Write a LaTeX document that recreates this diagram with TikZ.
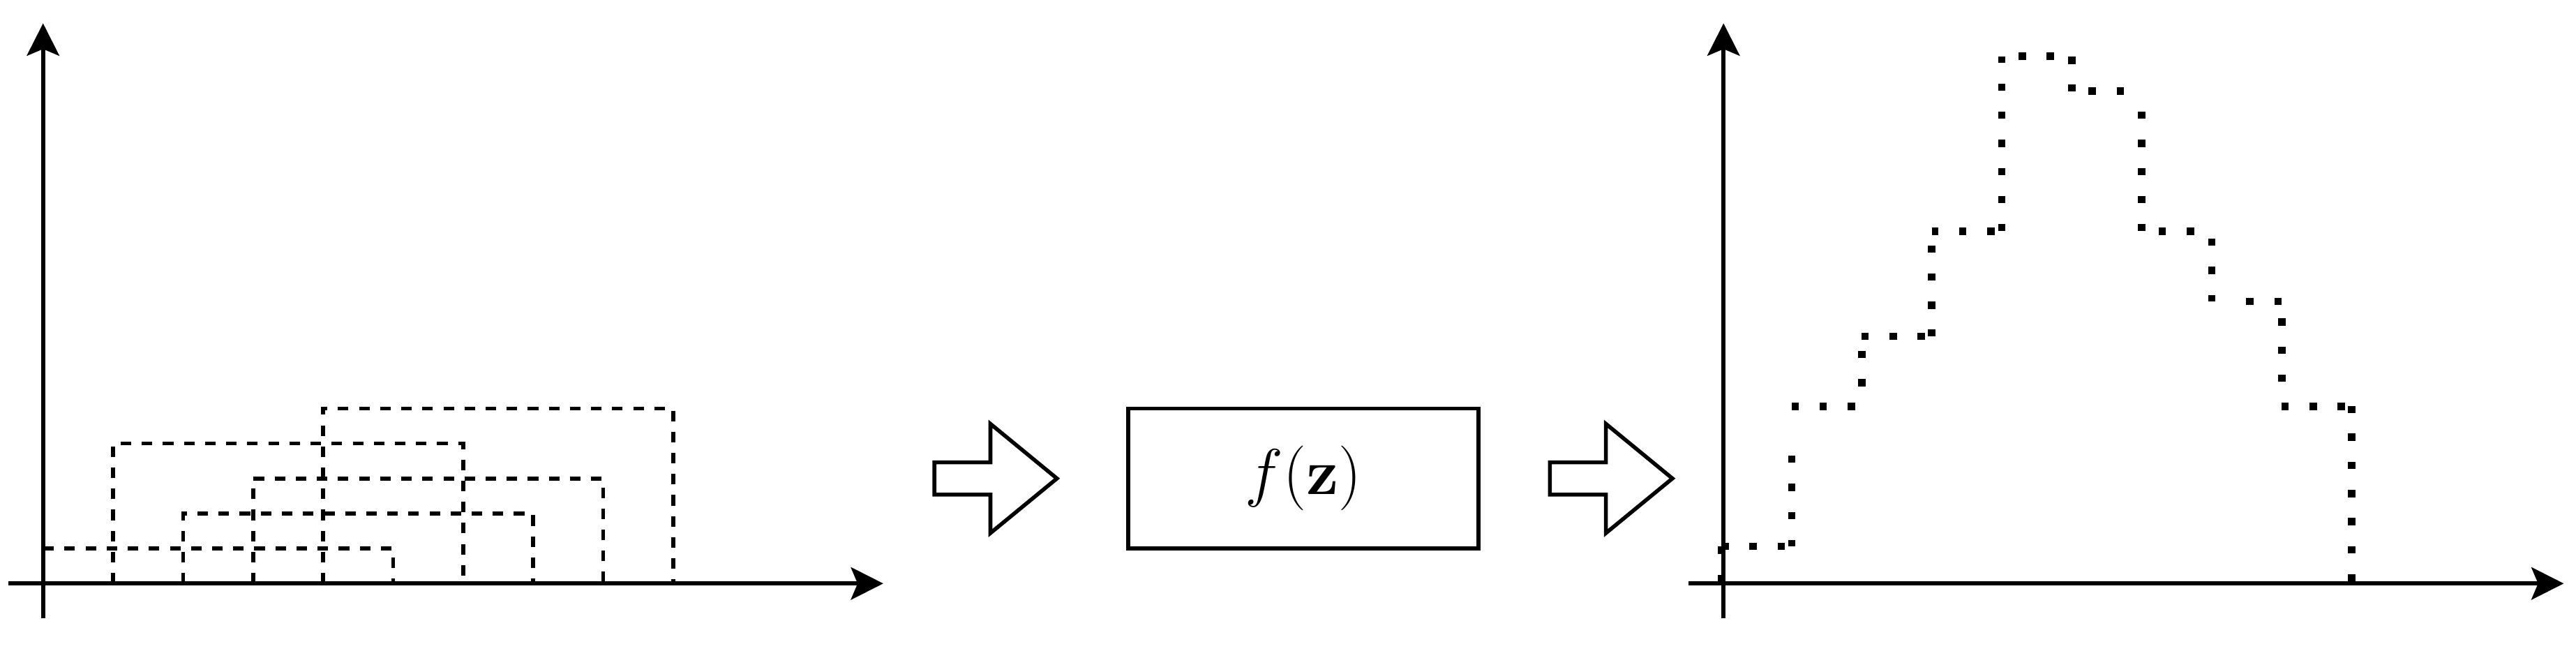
\RequirePackage{fix-cm}
\documentclass[tikz,border=0pt]{standalone}
\usetikzlibrary{arrows.meta}
\begin{document}
\begin{tikzpicture}[x=0.7cm,y=0.7cm,
  axis/.style={line width=1.2pt,-{Stealth[length=9.2pt,width=9.2pt,inset=1.9pt]}},
  interval/.style={line width=1.1pt,dashed},
  hist/.style={line width=2.1pt,dash pattern=on 2.1pt off 5.9pt},
  blockarrow/.style={line width=1.1pt,line join=miter},
  fbox/.style={draw,line width=1.1pt,minimum width=3.5cm,minimum height=1.4cm,inner sep=0pt,
    font=\fontsize{18.4pt}{22pt}\selectfont}
]
\useasboundingbox (-0.615,-0.954) rectangle (36.175,8.333);

% ---------- left panel: intervals ----------
\draw[interval] (0,0.5) rectangle (5,0);
\draw[interval] (1,0) rectangle (6,2);
\draw[interval] (2,0) rectangle (7,1);
\draw[interval] (3,0) rectangle (8,1.5);
\draw[interval] (4,0) rectangle (9,2.5);

\coordinate (LO) at (0,0);
\coordinate (Lxs) at (-0.5,0);
\coordinate (Lxe) at (12,0);
\coordinate (Lys) at (0,-0.5);
\coordinate (Lye) at (0,8);
\draw[axis] (Lxs) -- (Lxe);
\draw[axis] (Lys) -- (Lye);

% ---------- block arrows and function box ----------
\draw[blockarrow] (12.73,1.27) -- (13.53,1.27) -- (13.53,0.72) -- (14.48,1.5)
  -- (13.53,2.28) -- (13.53,1.73) -- (12.73,1.73) -- cycle;
\node[fbox] (f) at (18,1.5) {$f(\mathbf{z})$};
\draw[blockarrow] (21.52,1.27) -- (22.32,1.27) -- (22.32,0.72) -- (23.27,1.5)
  -- (22.32,2.28) -- (22.32,1.73) -- (21.52,1.73) -- cycle;

% ---------- right panel: sum ----------
\begin{scope}[shift={(24,0)}]
  \begin{scope}[shift={(-0.54pt,0.6pt)}]
    \draw[hist,dash phase=0.2pt]  (0,0) -- (0,0.5);
    \draw[hist,dash phase=0.1pt]  (0,0.5) -- (1,0.5);
    \draw[hist,dash pattern=on 2.1pt off 5.9pt on 2.1pt off 5.9pt on 2.1pt off 5.9pt on 2.1pt off 20pt,
          dash phase=0.27pt] (1,0.5) -- (1,2.5);
    \draw[hist,dash phase=0.1pt]  (1,2.5) -- (2,2.5);
    \draw[hist,dash phase=2.3pt]  (2,2.5) -- (2,3.5);
    \draw[hist,dash phase=0.1pt]  (2,3.5) -- (3,3.5);
    \draw[hist,dash phase=0.2pt]  (3,3.5) -- (3,5);
    \draw[hist,dash phase=0.2pt]  (3,5) -- (4,5);
    \draw[hist,dash phase=0.05pt] (4,5) -- (4,7.5);
    \draw[hist,dash phase=3.2pt]  (4,7.5) -- (5,7.5);
    \draw[hist,dash phase=0.25pt] (5,7) -- (5,7.5);
    \draw[hist,dash phase=3.2pt]  (5,7) -- (6,7);
    \draw[hist,dash phase=0.05pt] (6,5) -- (6,7);
    \draw[hist,dash phase=3.2pt]  (6,5) -- (7,5);
    \draw[hist,dash phase=0.25pt] (7,4) -- (7,5);
    \draw[hist,dash pattern=on 2.1pt off 5.9pt on 2.1pt off 13.9pt,
          dash phase=14.2pt] (7,4) -- (8,4);
    \draw[hist,dash pattern=on 2.1pt off 5.9pt on 2.1pt off 5.9pt on 2.1pt off 13.9pt,
          dash phase=25.08pt] (8,2.5) -- (8,4);
    \draw[hist,dash phase=0.1pt]  (8,2.5) -- (9,2.5);
    \draw[hist,dash phase=0.05pt] (9,0) -- (9,2.5);
  \end{scope}
  \coordinate (RO) at (0,0);
  \coordinate (Rxs) at (-0.5,0);
  \coordinate (Rxe) at (12,0);
  \coordinate (Rys) at (0,-0.5);
  \coordinate (Rye) at (0,8);
  \draw[axis] (Rxs) -- (Rxe);
  \draw[axis] (Rys) -- (Rye);
\end{scope}
\end{tikzpicture}
\end{document}
